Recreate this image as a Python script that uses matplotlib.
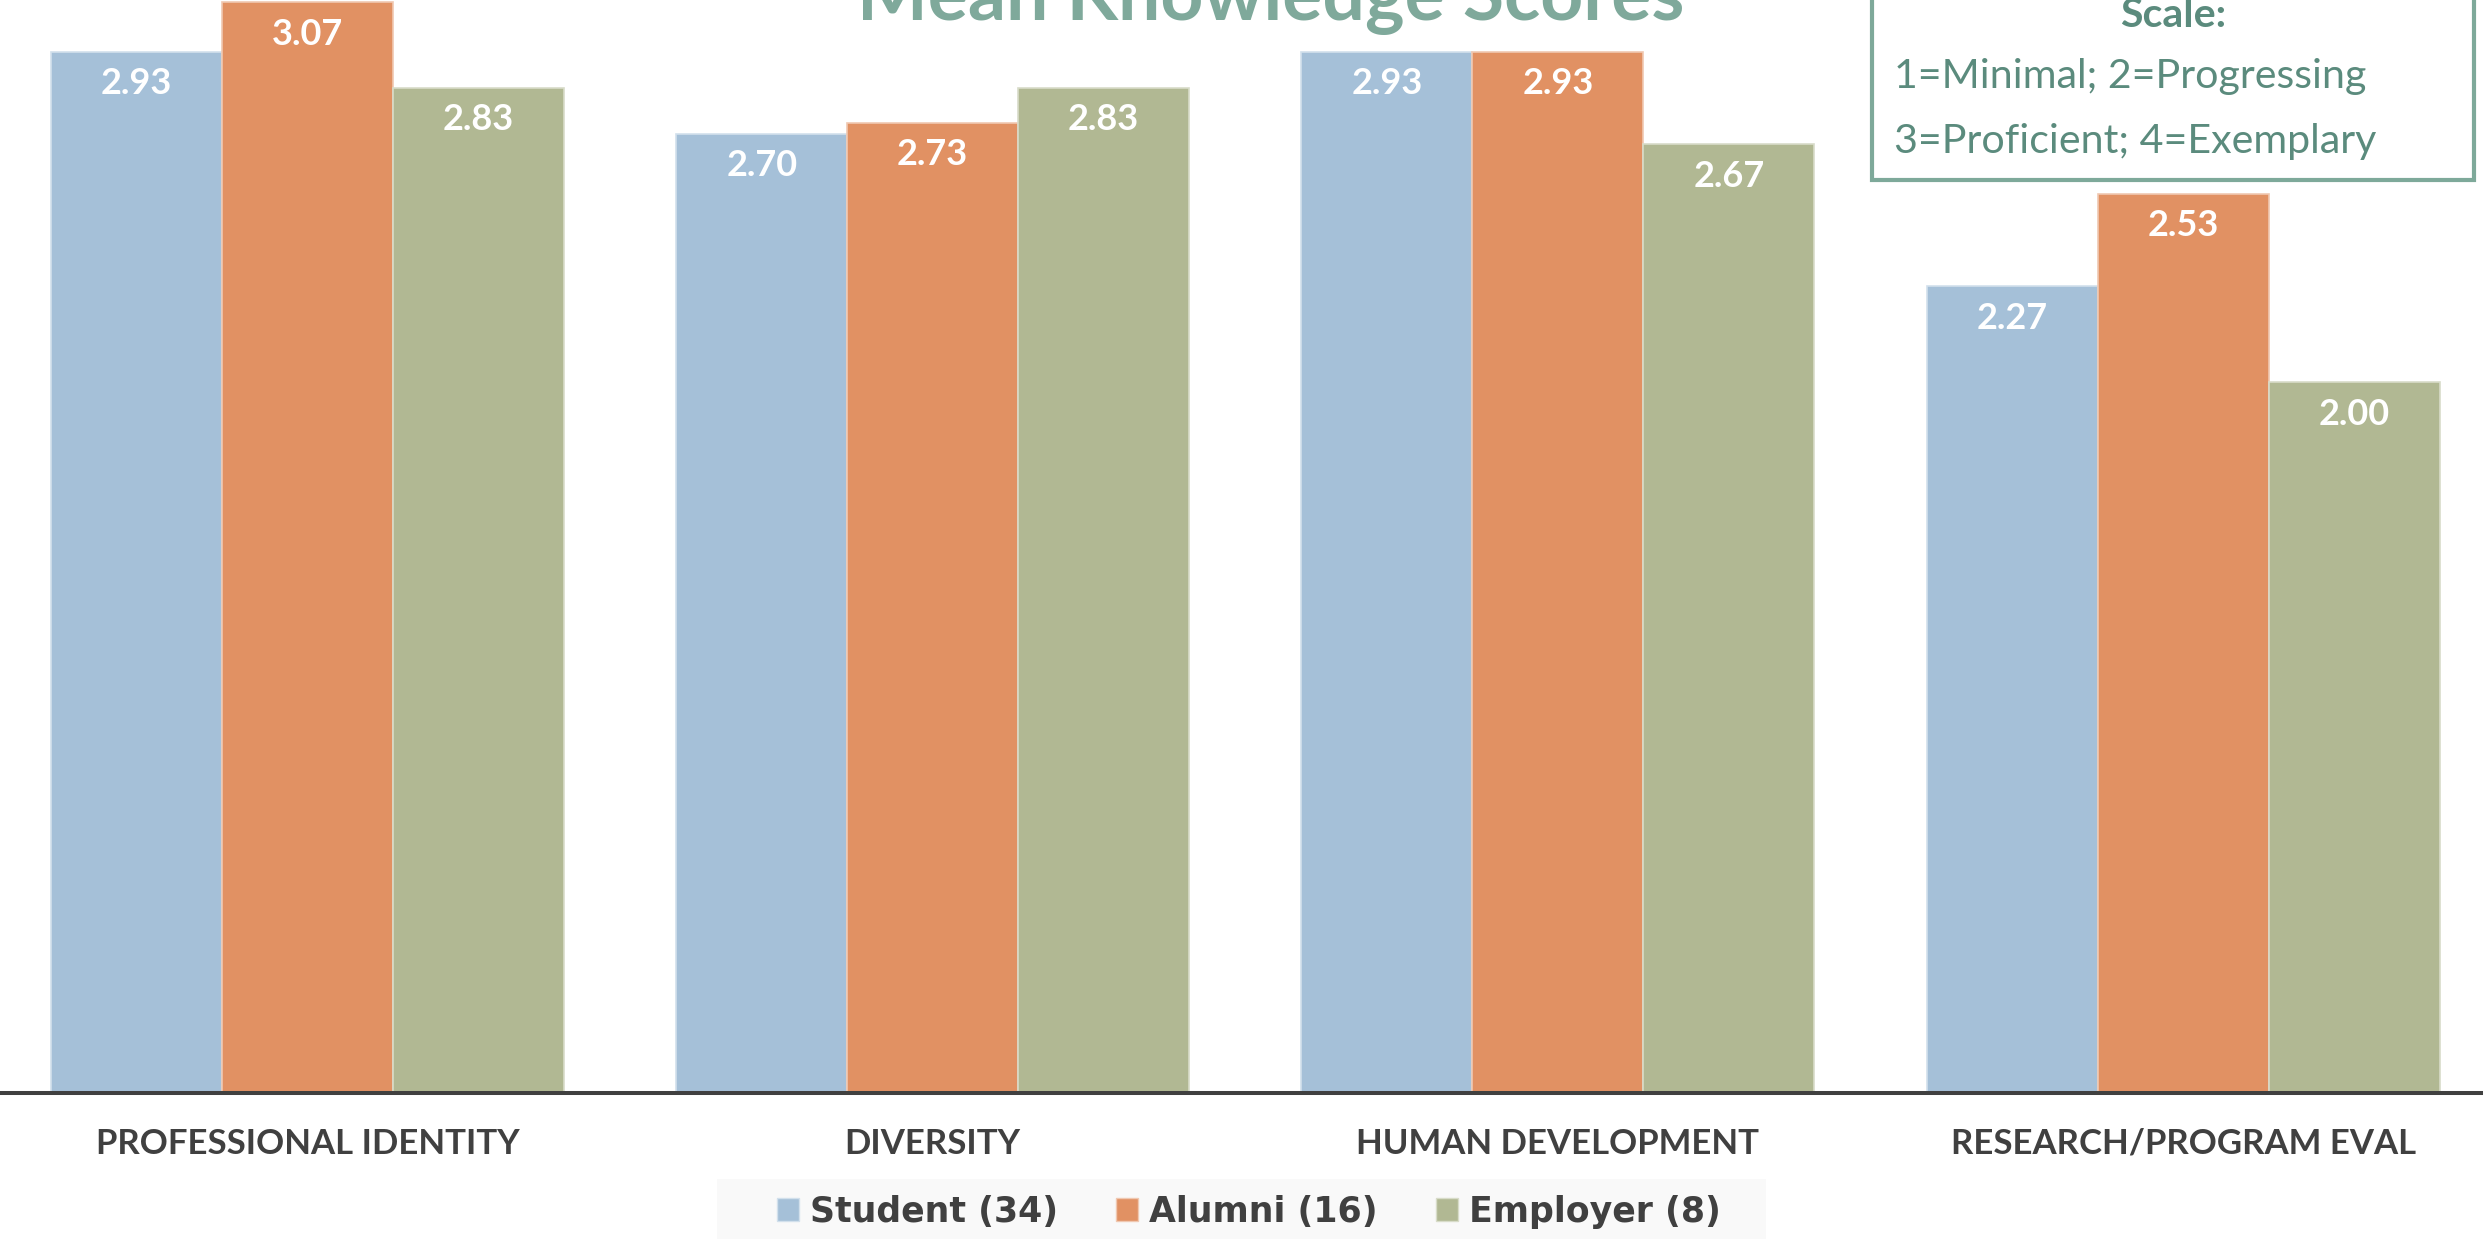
import matplotlib
matplotlib.use("Agg")
import matplotlib.pyplot as plt
from matplotlib.patches import Rectangle, Patch
import numpy as np

categories = ["PROFESSIONAL IDENTITY", "DIVERSITY", "HUMAN DEVELOPMENT", "RESEARCH/PROGRAM EVAL"]
series_names = ["Student (34)", "Alumni (16)", "Employer (8)"]
student = [2.93, 2.70, 2.93, 2.27]
alumni = [3.07, 2.73, 2.93, 2.53]
employer = [2.83, 2.83, 2.67, 2.00]
title = "Mean Knowledge Scores"
scale_lines = ["Scale:", "1=Minimal; 2=Progressing", "3=Proficient; 4=Exemplary"]

colors = ["#A5C0D8", "#E19163", "#B1B893"]
edge_colors = ["#D2E0EC", "#F0C8B1", "#D8DCC9"]

W, H = 2483, 1239
fig = plt.figure(figsize=(W / 100, H / 100), dpi=100)
plt.rcParams['font.family'] = ['Lato', 'DejaVu Sans']

# axes: baseline at 1093 px from top, top at figure top
ax = fig.add_axes([0, (H - 1093) / H, 1, 1093 / H])

x = np.arange(len(categories))
bw = 0.2735
all_series = [student, alumni, employer]
for i, (vals, c, ec) in enumerate(zip(all_series, colors, edge_colors)):
    bars = ax.bar(x + (i - 1) * bw, vals, width=bw, color=c, edgecolor=ec, linewidth=1.2,
                  label=series_names[i], zorder=2)
    for b, v in zip(bars, vals):
        ax.annotate(f"{v:.2f}", (b.get_x() + b.get_width() / 2, v), xytext=(0, -30.5),
                    textcoords="offset points", ha="center", va="baseline",
                    fontsize=26, fontweight="bold", color="white", zorder=3)

ax.set_ylim(0, 1093 / 355.3)
ax.set_xlim(-307.5 / 625.2, (W - 307.5) / 625.2)
for s in ["top", "right", "left"]:
    ax.spines[s].set_visible(False)
ax.spines["bottom"].set_color("#404040")
ax.spines["bottom"].set_linewidth(2.9)
ax.spines["bottom"].set_zorder(4)
ax.set_yticks([])
ax.set_xticks(x)
ax.set_xticklabels(categories, fontsize=25, fontweight="bold", color="#404040")
ax.tick_params(axis="x", length=0, pad=25)
ax.set_facecolor("none")

# title (partially cut off at top, as in the reference)
fig.text(1271 / W, 1 - 20 / H, title, ha="center", va="baseline", fontsize=54,
         fontweight="bold", color="#7FA99B")

# scale box
box = Rectangle((1872 / W, 1 - 180 / H), (2474 - 1872) / W, 300 / H, transform=fig.transFigure,
                facecolor="white", edgecolor="#7EA99A", linewidth=3, zorder=5, clip_on=False)
fig.add_artist(box)
fig.text(2173 / W, 1 - 27 / H, scale_lines[0], ha="center", va="baseline", fontsize=29.6,
         fontweight="bold", color="#5B8B7D", zorder=6)
fig.text(1894 / W, 1 - 88 / H, scale_lines[1], ha="left", va="baseline", fontsize=29.6,
         color="#5B8B7D", zorder=6)
fig.text(1894 / W, 1 - 153 / H, scale_lines[2], ha="left", va="baseline", fontsize=29.6,
         color="#5B8B7D", zorder=6)

# legend background
legbg = Rectangle((717 / W, 0), (1766 - 717) / W, 60 / H, transform=fig.transFigure,
                  facecolor="#F9F9F9", edgecolor="none", zorder=0)
fig.add_artist(legbg)

handles = [Patch(facecolor=c, edgecolor=ec, linewidth=1) for c, ec in zip(colors, edge_colors)]
leg = fig.legend(handles, series_names, loc="center", bbox_to_anchor=(1249 / W, (H - 1212) / H),
                 ncol=3, frameon=False,
                 prop={"weight": "bold", "size": 25, "family": ["DejaVu Sans"]},
                 handlelength=0.63, handleheight=0.63, handletextpad=0.32, columnspacing=1.67,
                 borderpad=0.2)
for t in leg.get_texts():
    t.set_color("#404040")

fig.savefig("out.png", dpi=100)
